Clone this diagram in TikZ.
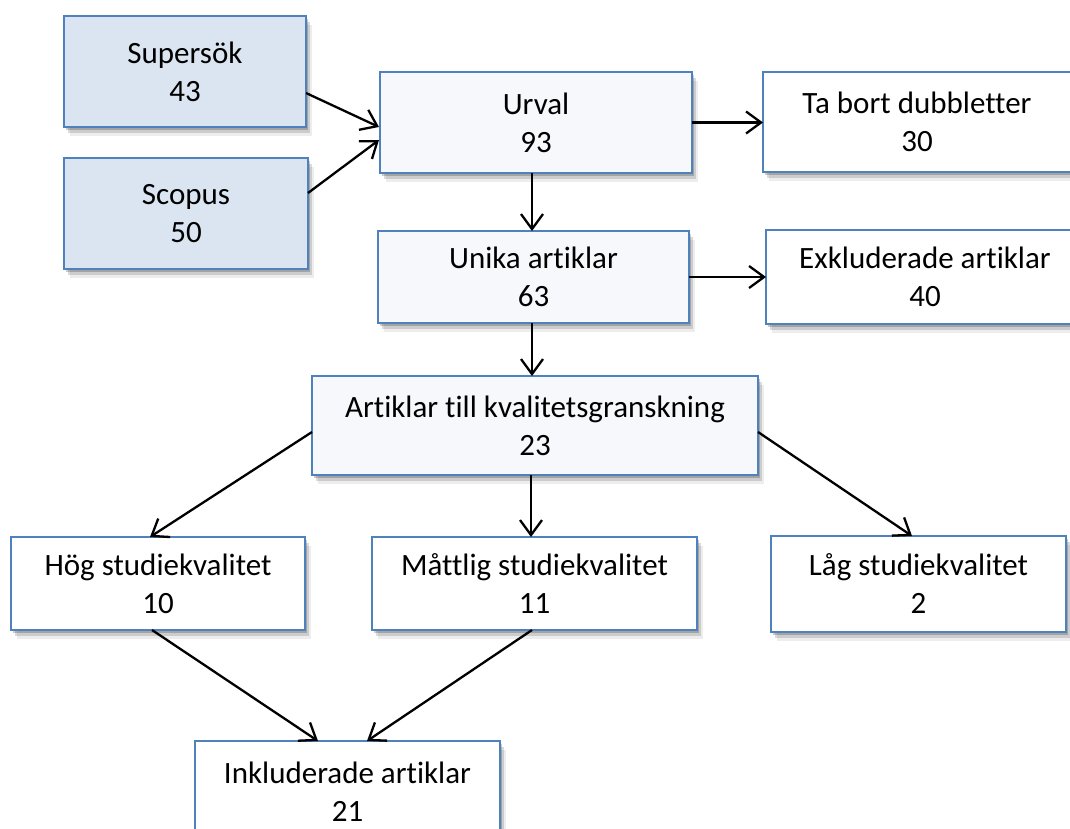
\documentclass[tikz,border=0pt]{standalone}
\usepackage{fontspec}
\setmainfont{Carlito}[Ligatures=CommonOff]
\usetikzlibrary{arrows.meta,shadows,calc}
\definecolor{boxblue}{HTML}{4F81BD}
\definecolor{srcfill}{HTML}{DBE5F1}
\definecolor{midfill}{HTML}{F6F8FC}
\tikzset{
  softshadow/.style={
    drop shadow={shadow xshift=6pt,shadow yshift=-9pt,fill=black,opacity=0.07},
    drop shadow={shadow xshift=4pt,shadow yshift=-6pt,fill=black,opacity=0.14},
    drop shadow={shadow xshift=2pt,shadow yshift=-3pt,fill=black,opacity=0.2}},
  box/.style={rectangle,draw=boxblue,line width=2.7pt,fill=white,softshadow,
    align=center,inner sep=0pt,outer sep=0pt,
    font=\fontsize{31}{38}\selectfont},
  srcbox/.style={box,fill=srcfill},
  midbox/.style={box,fill=midfill},
  arr/.style={line width=2.3pt,-{Straight Barb[length=15pt,width=22pt]}}
}
\begin{document}
\begin{tikzpicture}[x=1pt,y=-1pt]
\useasboundingbox (0,0) rectangle (1070,829);
\clip (0,0) rectangle (1070,829);
\node[srcbox,minimum width=242pt,minimum height=111pt] (sup) at (185,71.5) {Supersök\\43};
\node[srcbox,minimum width=244pt,minimum height=111pt] (scop) at (186,213.5) {Scopus\\50};
\node[midbox,minimum width=312pt,minimum height=101pt] (urval) at (536,122.5) {Urval\\93};
\node[box,minimum width=308pt,minimum height=100pt] (ta) at (917,122) {Ta bort dubbletter\\30};
\node[midbox,minimum width=311pt,minimum height=92pt] (unika) at (533.5,277) {Unika artiklar\\63};
\node[box,minimum width=318pt,minimum height=94pt] (exkl) at (925,277) {Exkluderade artiklar\\40};
\node[midbox,minimum width=446pt,minimum height=99pt] (art) at (535,425.5) {Artiklar till kvalitetsgranskning\\23};
\node[box,minimum width=294pt,minimum height=93pt] (hog) at (158,583.5) {Hög studiekvalitet\\10};
\node[box,minimum width=325pt,minimum height=93pt] (matt) at (534.5,583.5) {Måttlig studiekvalitet\\11};
\node[box,minimum width=295pt,minimum height=96pt] (lag) at (918.5,584) {Låg studiekvalitet\\2};
\node[box,minimum width=305pt,minimum height=102pt] (inkl) at (347.5,792) {Inkluderade artiklar\\21};

\draw[arr] ([yshift=-21.5pt]sup.east) -- ([yshift=-4.5pt,xshift=-1pt]urval.west);
\draw[arr] ([yshift=20.5pt]scop.east) -- ([yshift=-17.5pt,xshift=-1pt]urval.west);
\draw[arr] (urval.east) -- (urval.east -| ta.west);
\draw[arr] ([xshift=-1.5pt]unika.north |- urval.south) -- ([xshift=-1.5pt]unika.north);
\draw[arr] (unika.east) -- (unika.east -| exkl.west);
\draw[arr] ([xshift=-1.5pt]unika.south) -- ([xshift=-1.5pt]unika.south |- art.north);
\draw[arr] ([yshift=-6.5pt]art.west) -- ([xshift=-8pt]hog.north);
\draw[arr] ([xshift=-4pt]art.south) -- ([xshift=-4pt]art.south |- matt.north);
\draw[arr] ([yshift=-6.5pt]art.east) -- ([xshift=-6.5pt]lag.north);
\draw[arr] ([xshift=-6pt]hog.south) -- ([xshift=-29.5pt]inkl.north);
\draw[arr] ([xshift=-2.5pt]matt.south) -- ([xshift=19.5pt]inkl.north);
\end{tikzpicture}
\end{document}
